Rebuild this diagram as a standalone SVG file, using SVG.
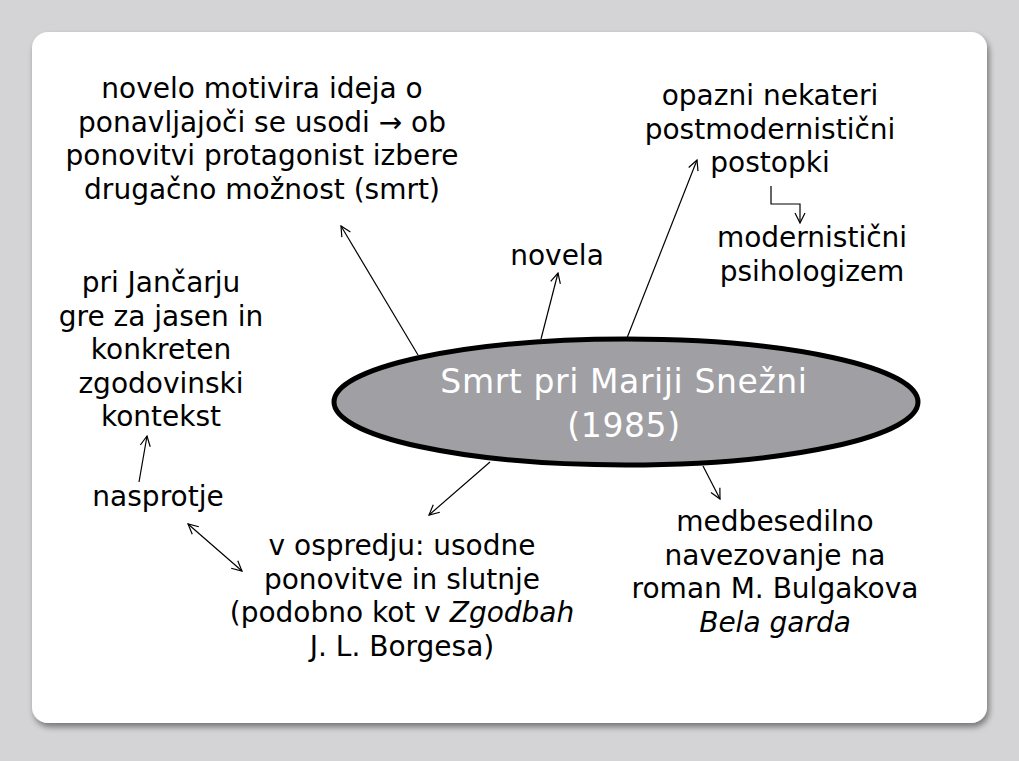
<svg xmlns="http://www.w3.org/2000/svg" width="1019" height="761" viewBox="0 0 1019 761">
<defs>
<filter id="sh" x="-5%" y="-5%" width="110%" height="112%">
<feGaussianBlur in="SourceAlpha" stdDeviation="3"/>
<feOffset dx="2" dy="4" result="b"/>
<feComponentTransfer><feFuncA type="linear" slope="0.45"/></feComponentTransfer>
<feMerge><feMergeNode/><feMergeNode in="SourceGraphic"/></feMerge>
</filter>
<marker id="ah" viewBox="0 0 12 12" refX="11" refY="6" markerWidth="12" markerHeight="12" markerUnits="userSpaceOnUse" orient="auto-start-reverse">
<path d="M1,1 L11,6 L1,11" fill="none" stroke="#000" stroke-width="1.2"/>
</marker>
</defs>
<style>
text{font-family:"DejaVu Sans","Verdana",sans-serif;font-size:28px;fill:#000;text-anchor:middle}
.c line,.c path{stroke:#000;stroke-width:1.2;fill:none;marker-end:url(#ah)}
.w{fill:#fff;font-size:33px;letter-spacing:0.6px}
</style>
<rect width="1019" height="761" fill="#d4d4d6"/>
<rect x="32" y="32" width="955" height="691" rx="16" fill="#fff" filter="url(#sh)"/>
<g class="c" id="connectors">
<line x1="418" y1="355" x2="341" y2="226"/>
<line x1="541" y1="339" x2="558" y2="273"/>
<line x1="627" y1="338" x2="697" y2="160"/>
<path d="M771,186 V204 H800 V223"/>
<line x1="490" y1="462" x2="429" y2="515"/>
<line x1="703" y1="466" x2="720" y2="499"/>
<line x1="139" y1="482" x2="147" y2="436"/>
<line x1="188" y1="524" x2="242" y2="571" style="marker-start:url(#ah)"/>
</g>
<g id="center">
<ellipse cx="626" cy="402" rx="292" ry="63" fill="#a0a0a4" stroke="#000" stroke-width="5"/>
<text class="w" x="624" y="393">Smrt pri Mariji Snežni</text>
<text class="w" x="624" y="437">(1985)</text>
</g>
<g id="n-ideja">
<text x="262" y="98">novelo motivira ideja o</text>
<text x="262" y="131.5">ponavljajoči se usodi → ob</text>
<text x="262" y="165">ponovitvi protagonist izbere</text>
<text x="262" y="198.5">drugačno možnost (smrt)</text>
</g>
<g id="n-postmod">
<text x="770" y="105">opazni nekateri</text>
<text x="770" y="138.5">postmodernistični</text>
<text x="770" y="172">postopki</text>
</g>
<g id="n-mod">
<text x="812" y="247">modernistični</text>
<text x="812" y="280.5">psihologizem</text>
</g>
<g id="n-novela">
<text x="557" y="265">novela</text>
</g>
<g id="n-jancar">
<text x="161" y="292">pri Jančarju</text>
<text x="161" y="325.5">gre za jasen in</text>
<text x="161" y="359">konkreten</text>
<text x="161" y="392.5">zgodovinski</text>
<text x="161" y="426">kontekst</text>
</g>
<g id="n-nasprotje">
<text x="158" y="506">nasprotje</text>
</g>
<g id="n-ospredje">
<text x="402" y="555">v ospredju: usodne</text>
<text x="402" y="588.5">ponovitve in slutnje</text>
<text x="402" y="622">(podobno kot v <tspan font-style="italic">Zgodbah</tspan></text>
<text x="402" y="655.5">J. L. Borgesa)</text>
</g>
<g id="n-bulgakov">
<text x="775" y="531">medbesedilno</text>
<text x="775" y="564.5">navezovanje na</text>
<text x="775" y="598">roman M. Bulgakova</text>
<text x="775" y="631.5" font-style="italic">Bela garda</text>
</g>
</svg>
